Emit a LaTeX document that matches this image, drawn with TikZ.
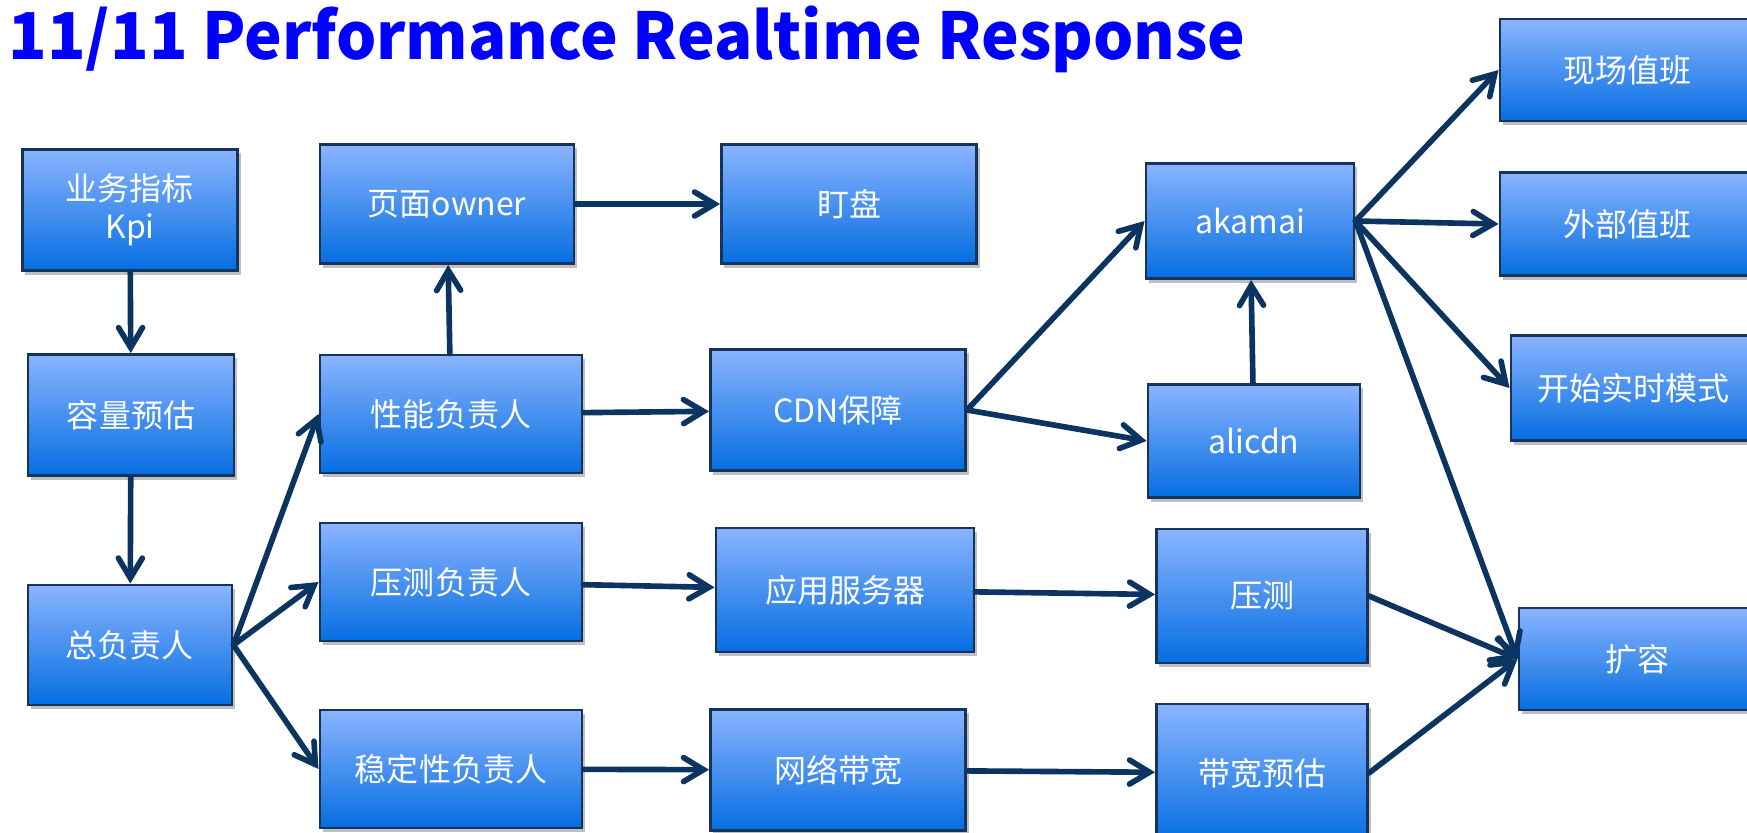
\documentclass[tikz,border=0pt]{standalone}
\usepackage{fontspec}
\usepackage{graphicx}
\setmainfont{Noto Sans CJK SC}
\usetikzlibrary{arrows.meta,shadows}

\definecolor{boxtop}{RGB}{138,180,255}
\definecolor{boxbot}{RGB}{5,110,225}
\definecolor{boxline}{RGB}{22,52,90}
\definecolor{arrowc}{RGB}{12,52,96}

\begin{document}
\begin{tikzpicture}[x=0.01cm, y=-0.01cm,
  box/.style={draw=boxline, line width=0.8pt, top color=boxtop, bottom color=boxbot,
    text=white, align=center, inner sep=0pt,
    font=\fontsize{9.1pt}{10.8pt}\selectfont,
    drop shadow={shadow xshift=0.03cm, shadow yshift=-0.04cm, opacity=0.25, fill=black}},
  link/.style={draw=arrowc, line width=1.6pt, line cap=round,
    -{Straight Barb[length=2mm, width=2.4mm, line cap=round]}}]

% ---------- Ramka ----------
\useasboundingbox (0,0) rectangle (1747,833);
\clip (0,0) rectangle (1747,833);

% ---------- Tytul ----------
\node[anchor=north west, inner sep=0pt, text=blue] (title) at (8,5)
  {\resizebox*{12.36cm}{0.67cm}{\bfseries 11/11 Performance Realtime Response}};

% ---------- Kolumna 1 ----------
\node[box, minimum width=2.15cm, minimum height=1.21cm] (kpi) at (130,210) {业务指标\\Kpi};
\node[box, minimum width=2.06cm, minimum height=1.21cm] (cap) at (131,415) {容量预估};
\node[box, minimum width=2.04cm, minimum height=1.20cm] (chief) at (130,645) {总负责人};

% ---------- Kolumna 2 ----------
\node[box, minimum width=2.54cm, minimum height=1.19cm] (owner) at (447,204) {页面owner};
\node[box, minimum width=2.62cm, minimum height=1.18cm] (perf) at (451,414) {性能负责人};
\node[box, minimum width=2.62cm, minimum height=1.18cm] (stresslead) at (451,582) {压测负责人};
\node[box, minimum width=2.62cm, minimum height=1.18cm] (stablead) at (451,769) {稳定性负责人};

% ---------- Kolumna 3 ----------
\node[box, minimum width=2.55cm, minimum height=1.19cm] (watch) at (849,204) {盯盘};
\node[box, minimum width=2.55cm, minimum height=1.21cm] (cdn) at (838,410) {CDN保障};
\node[box, minimum width=2.58cm, minimum height=1.24cm] (appsrv) at (845,590) {应用服务器};
\node[box, minimum width=2.55cm, minimum height=1.21cm] (net) at (838,770) {网络带宽};

% ---------- Kolumna 4 ----------
\node[box, minimum width=2.08cm, minimum height=1.15cm] (akamai) at (1250,221) {akamai};
\node[box, minimum width=2.12cm, minimum height=1.13cm] (alicdn) at (1254,441) {alicdn};
\node[box, minimum width=2.11cm, minimum height=1.34cm] (stress) at (1262,596) {压测};
\node[box, minimum width=2.11cm, minimum height=1.38cm] (bwest) at (1262,773) {带宽预估};

% ---------- Kolumna 5 ----------
\node[box, minimum width=2.54cm, minimum height=1.02cm] (onsite) at (1627,70) {现场值班};
\node[box, minimum width=2.54cm, minimum height=1.03cm] (external) at (1627,224) {外部值班};
\node[box, minimum width=2.44cm, minimum height=1.05cm] (realtime) at (1633,388) {开始实时模式};
\node[box, minimum width=2.36cm, minimum height=1.02cm] (expand) at (1637,659) {扩容};

% ---------- Strzalki ----------
\draw[link] (kpi) -- (cap);
\draw[link] (cap) -- (chief);
\draw[link] (chief.east) -- (perf.west);
\draw[link] (chief.east) -- (stresslead.west);
\draw[link] (chief.east) -- (stablead.west);
\draw[link] (perf) -- (owner);
\draw[link] (owner) -- (watch);
\draw[link] (perf) -- (cdn);
\draw[link] (cdn.east) -- (akamai.west);
\draw[link] (cdn.east) -- (alicdn.west);
\draw[link] (alicdn) -- (akamai);
\draw[link] (akamai.east) -- (onsite.west);
\draw[link] (akamai.east) -- (external.west);
\draw[link] (akamai.east) -- (realtime.west);
\draw[link] (akamai.east) -- (expand.west);
\draw[link] (stresslead) -- (appsrv);
\draw[link] (appsrv) -- (stress);
\draw[link] (stress.east) -- (expand.west);
\draw[link] (stablead) -- (net);
\draw[link] (net) -- (bwest);
\draw[link] (bwest.east) -- (expand.west);

\end{tikzpicture}
\end{document}
